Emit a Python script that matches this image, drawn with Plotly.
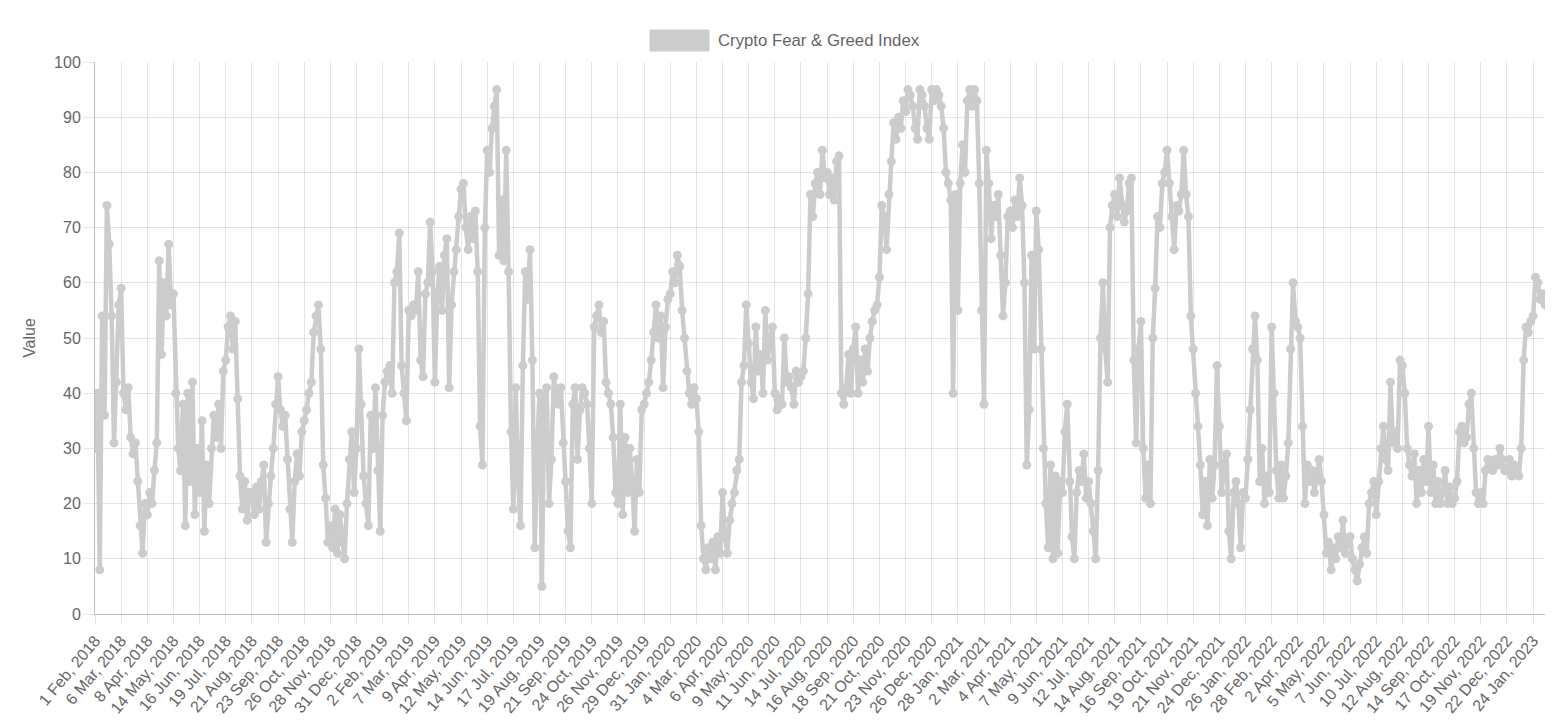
import plotly.graph_objects as go

# x-axis category labels (one label every 33 daily readings, as in the source chart)
tick_labels = [
    "1 Feb, 2018", "6 Mar, 2018", "8 Apr, 2018", "14 May, 2018", "16 Jun, 2018",
    "19 Jul, 2018", "21 Aug, 2018", "23 Sep, 2018", "26 Oct, 2018", "28 Nov, 2018",
    "31 Dec, 2018", "2 Feb, 2019", "7 Mar, 2019", "9 Apr, 2019", "12 May, 2019",
    "14 Jun, 2019", "17 Jul, 2019", "19 Aug, 2019", "21 Sep, 2019", "24 Oct, 2019",
    "26 Nov, 2019", "29 Dec, 2019", "31 Jan, 2020", "4 Mar, 2020", "6 Apr, 2020",
    "9 May, 2020", "11 Jun, 2020", "14 Jul, 2020", "16 Aug, 2020", "18 Sep, 2020",
    "21 Oct, 2020", "23 Nov, 2020", "26 Dec, 2020", "28 Jan, 2021", "2 Mar, 2021",
    "4 Apr, 2021", "7 May, 2021", "9 Jun, 2021", "12 Jul, 2021", "14 Aug, 2021",
    "16 Sep, 2021", "19 Oct, 2021", "21 Nov, 2021", "24 Dec, 2021", "26 Jan, 2022",
    "28 Feb, 2022", "2 Apr, 2022", "5 May, 2022", "7 Jun, 2022", "10 Jul, 2022",
    "12 Aug, 2022", "14 Sep, 2022", "17 Oct, 2022", "19 Nov, 2022", "22 Dec, 2022",
    "24 Jan, 2023",
]

# Index values, one reading every 3rd day
period_feb18_jan19 = [
    30, 40, 8, 54, 36, 74, 67, 54, 31, 42, 56,
    59, 40, 37, 41, 32, 29, 31, 24, 16, 11, 20,
    18, 22, 20, 26, 31, 64, 47, 60, 54, 67, 56,
    58, 40, 30, 26, 38, 16, 40, 24, 42, 18, 30,
    22, 35, 15, 27, 20, 30, 36, 32, 38, 30, 44,
    46, 52, 54, 48, 53, 39, 25, 19, 24, 17, 22,
    22, 18, 23, 19, 24, 27, 13, 20, 25, 30, 38,
    43, 37, 34, 36, 28, 19, 13, 24, 29, 25, 33,
    35, 37, 40, 42, 51, 54, 56, 48, 27, 21, 13,
    16, 12, 19, 11, 18, 13, 10, 20, 28, 33, 22,
    30, 48, 38, 25, 20, 16, 36, 30, 41, 26, 15,
]
period_feb19_jan20 = [
    36, 42, 44, 45, 40, 60, 62, 69, 45, 40, 35,
    55, 54, 56, 55, 62, 46, 43, 58, 60, 71, 62,
    42, 58, 63, 55, 65, 68, 41, 56, 62, 66, 72,
    77, 78, 70, 66, 72, 68, 73, 62, 34, 27, 70,
    84, 80, 88, 92, 95, 65, 75, 64, 84, 62, 33,
    19, 41, 24, 16, 45, 62, 57, 66, 46, 12, 30,
    40, 5, 39, 41, 20, 28, 43, 40, 38, 41, 31,
    24, 15, 12, 38, 41, 28, 37, 41, 40, 38, 30,
    20, 52, 54, 56, 51, 53, 42, 40, 38, 32, 22,
    20, 38, 18, 32, 22, 30, 24, 15, 28, 22, 37,
    38, 40, 42, 46, 51, 56, 50, 54, 41, 52, 57,
]
period_jan20_jan21 = [
    58, 62, 60, 65, 63, 55, 50, 44, 40, 38, 41,
    39, 33, 16, 10, 8, 12, 10, 13, 8, 14, 11,
    22, 14, 11, 17, 20, 22, 26, 28, 42, 45, 56,
    49, 42, 39, 52, 44, 47, 40, 55, 46, 50, 52,
    40, 37, 39, 38, 50, 42, 43, 41, 38, 44, 42,
    43, 44, 50, 58, 76, 72, 78, 80, 76, 84, 79,
    80, 76, 79, 75, 82, 83, 40, 38, 41, 47, 40,
    48, 52, 40, 46, 42, 48, 44, 50, 53, 55, 56,
    61, 74, 72, 66, 76, 82, 89, 86, 90, 88, 93,
    91, 95, 94, 92, 88, 86, 95, 94, 92, 88, 86,
    95, 93, 95, 94, 92, 88, 80, 78, 75, 40, 76,
]
period_jan21_jan22 = [
    55, 78, 85, 80, 93, 95, 92, 95, 93, 78, 55,
    38, 84, 78, 68, 74, 72, 76, 65, 54, 60, 72,
    73, 70, 75, 72, 79, 74, 60, 27, 37, 65, 48,
    73, 66, 48, 30, 20, 12, 27, 10, 25, 11, 24,
    22, 33, 38, 24, 14, 10, 22, 26, 24, 29, 21,
    24, 20, 15, 10, 26, 50, 60, 48, 42, 70, 74,
    76, 72, 79, 74, 71, 73, 78, 79, 46, 31, 48,
    53, 30, 21, 27, 20, 50, 59, 72, 70, 78, 80,
    84, 78, 72, 66, 74, 73, 76, 84, 76, 72, 54,
    48, 40, 34, 27, 18, 24, 16, 28, 21, 27, 45,
    34, 22, 27, 29, 15, 10, 22, 24, 20, 12, 22,
]
period_jan22_feb23 = [
    21, 28, 37, 48, 54, 46, 24, 30, 20, 25, 22,
    52, 40, 26, 21, 27, 21, 25, 31, 48, 60, 53,
    52, 50, 34, 20, 27, 24, 26, 22, 25, 28, 24,
    18, 11, 13, 8, 12, 10, 14, 12, 17, 11, 13,
    14, 10, 8, 6, 9, 12, 14, 11, 20, 22, 24,
    18, 24, 30, 34, 28, 26, 42, 31, 33, 30, 46,
    45, 40, 30, 27, 25, 29, 20, 26, 22, 28, 24,
    34, 22, 27, 20, 24, 20, 22, 26, 20, 23, 20,
    21, 24, 33, 34, 31, 32, 38, 40, 30, 22, 20,
    22, 20, 26, 28, 27, 26, 28, 27, 30, 28, 26,
    26, 28, 25, 27, 26, 25, 30, 46, 52, 51, 53,
    54, 61, 60, 57, 58, 56,
]

values = (period_feb18_jan19 + period_feb19_jan20 + period_jan20_jan21
          + period_jan21_jan22 + period_jan22_feb23)

SAMPLE_STEP = 3     # days between readings
LABEL_EVERY = 33    # days between axis labels
x = [i * SAMPLE_STEP for i in range(len(values))]
tickvals = [i * LABEL_EVERY for i in range(len(tick_labels))]

GREY = "rgb(204,204,204)"
GRID = "rgba(0,0,0,0.1)"
AXIS = "rgba(0,0,0,0.25)"
TXT = "#666666"
FONT = "Liberation Sans, Arial, Helvetica, sans-serif"

# page body has an 8px default margin: figure is placed at (8, 8)
PAGE = 8
W, H = 1568 - 2 * PAGE, 724 - 2 * PAGE
L, T = 95 - PAGE, 62 - PAGE
PW, PH = 1450, 552
R, B = W - L - PW, H - T - PH

fig = go.Figure()
fig.add_trace(go.Scatter(
    x=x, y=values, mode="lines+markers",
    name="Crypto Fear & Greed Index",
    line=dict(color=GREY, width=4.5),
    marker=dict(color=GREY, size=9),
    showlegend=False,
))

fig.update_layout(
    width=W, height=H,
    margin=dict(l=L, r=R, t=T, b=B, autoexpand=False),
    paper_bgcolor="white", plot_bgcolor="white",
    font=dict(family=FONT, size=16, color=TXT),
    xaxis=dict(
        range=[0, x[-1]], automargin=False,
        tickmode="array", tickvals=tickvals, ticktext=tick_labels,
        tickangle=-50, showgrid=True, gridcolor=GRID, gridwidth=1,
        ticks="outside", ticklen=10, tickcolor=GRID,
        showline=True, linecolor=AXIS, linewidth=1, zeroline=False,
        tickfont=dict(size=16, color=TXT),
    ),
    yaxis=dict(
        range=[0, 100], dtick=10, automargin=False,
        showgrid=True, gridcolor=GRID, gridwidth=1,
        ticks="outside", ticklen=10, tickcolor=GRID,
        showline=True, linecolor=AXIS, linewidth=1, zeroline=False,
        tickfont=dict(size=16, color=TXT),
        title=dict(text="Value", font=dict(size=16, color=TXT), standoff=14),
    ),
)

# legend drawn like the original (filled box + label); page pixel -> paper coords
def px_x(p):
    return (p - 95) / PW

def px_y(p):
    return (614 - p) / PH

fig.add_shape(type="rect", xref="paper", yref="paper",
              x0=px_x(650), x1=px_x(709), y0=px_y(51), y1=px_y(30),
              fillcolor=GREY, line=dict(color=GREY, width=1))
fig.add_annotation(xref="paper", yref="paper",
                   x=px_x(716), y=px_y(40),
                   xanchor="left", yanchor="middle", showarrow=False,
                   text="Crypto Fear & Greed Index",
                   font=dict(family=FONT, size=16.75, color=TXT))

fig.write_html("out.html")
